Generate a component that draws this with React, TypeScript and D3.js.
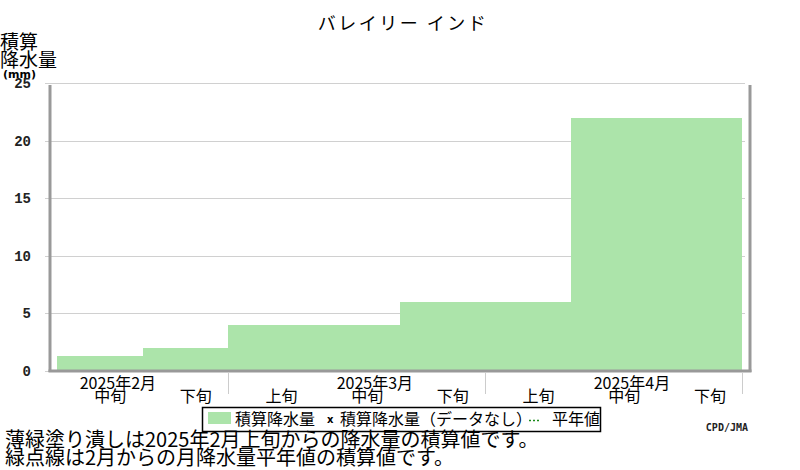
import * as d3 from 'd3'

// 旬ごとの積算降水量 (mm)
const decades = ['中旬', '下旬', '上旬', '中旬', '下旬', '上旬', '中旬', '下旬']
const accumulated = [1.3, 2.0, 4.0, 4.0, 6.0, 6.0, 22.0, 22.0]
const months = ['2025年2月', '2025年3月', '2025年4月']
const monthStartIndex = [0, 3, 6] // 月ラベルを置く旬 (中旬)
const monthEnds = [2, 5, 8]
const yTicks = [0, 5, 10, 15, 20, 25]

const WIDTH = 800
const HEIGHT = 470
const JP = '"Noto Sans CJK JP", sans-serif'

export default function App() {
  const x = d3.scaleLinear().domain([-0.082, 8.082]).range([50, 749.5])
  const y = d3.scaleLinear().domain([0, 25]).range([370.5, 83])

  // 階段状の塗り潰し
  const steps = accumulated.map((v, i) => [i, v] as [number, number])
  steps.push([accumulated.length, accumulated[accumulated.length - 1]])
  const area = d3.area<[number, number]>()
    .x(d => Math.round(x(d[0])))
    .y0(Math.round(y(0)) - 1)
    .y1(d => Math.round(y(d[1])))
    .curve(d3.curveStepAfter)

  return (
    <svg width={WIDTH} height={HEIGHT} style={{ position: 'absolute', left: 0, top: 0, background: '#fff' }}>
      <text x={403} y={30} textAnchor="middle" fontFamily={JP} fontSize={18} fill="#000" letterSpacing={2.5}>
        バレイリー インド
      </text>

      {/* y axis title */}
      <text x={0} y={49} fontFamily={JP} fontSize={19} fill="#000">積算</text>
      <text x={0} y={67} fontFamily={JP} fontSize={19} fill="#000">降水量</text>
      <text x={3} y={78} fontFamily='"DejaVu Sans", sans-serif' fontSize={11} fontWeight="bold" fill="#000">(mm)</text>

      {/* grid */}
      {yTicks.map(t => (
        <g key={t}>
          <line x1={45} x2={745} y1={Math.round(y(t)) + 0.5} y2={Math.round(y(t)) + 0.5} stroke="#d0d0d0" />
          <text x={31} y={y(t) + 5} textAnchor="end" fontFamily='"Liberation Mono", monospace' fontWeight="bold" fontSize={14} fill="#222">{t}</text>
        </g>
      ))}

      {/* accumulated precipitation */}
      <path d={area(steps) ?? ''} fill="#ace4aa" shapeRendering="crispEdges" />

      {/* frame */}
      <line x1={50} x2={50} y1={85} y2={372} stroke="#999" strokeWidth={3} />
      <line x1={750} x2={750} y1={85} y2={372} stroke="#999" strokeWidth={3} />
      <line x1={48.5} x2={751.5} y1={371} y2={371} stroke="#999" strokeWidth={3} />

      {/* month separators */}
      {monthEnds.map(m => (
        <line key={m} x1={Math.round(x(m)) + 0.5} x2={Math.round(x(m)) + 0.5} y1={373} y2={394} stroke="#ccc" />
      ))}

      {/* x labels */}
      {decades.map((d, i) => (
        <text key={i} x={x(i + 0.62)} y={402} textAnchor="middle" fontFamily={JP} fontSize={16} fill="#000">{d}</text>
      ))}
      {months.map((m, i) => (
        <text key={m} x={x(monthStartIndex[i] + 0.71)} y={389} textAnchor="middle" fontFamily={JP} fontSize={16} fill="#000">{m}</text>
      ))}

      {/* legend */}
      <rect x={202.5} y={407.5} width={398} height={24} fill="#fff" stroke="#000" strokeWidth={1.5} />
      <rect x={208} y={412} width={23} height={12} fill="#ace4aa" />
      <text x={235} y={425} fontFamily={JP} fontSize={16} fill="#000">積算降水量</text>
      <text x={327} y={423} fontFamily='"DejaVu Sans", sans-serif' fontWeight="bold" fontSize={10} fill="#000">x</text>
      <text x={340} y={425} fontFamily={JP} fontSize={16} fill="#000">積算降水量（データなし）</text>
      <line x1={529} x2={541} y1={420.5} y2={420.5} stroke="#1a8a1a" strokeWidth={1.5} strokeDasharray="2,2" />
      <text x={552} y={425} fontFamily={JP} fontSize={16} fill="#000">平年値</text>

      <text x={748} y={431} textAnchor="end" fontFamily='"DejaVu Sans Mono", monospace' fontWeight="bold" fontSize={10} fill="#222">CPD/JMA</text>

      {/* notes */}
      <text x={5} y={447} fontFamily={JP} fontSize={20} fill="#000">薄緑塗り潰しは2025年2月上旬からの降水量の積算値です。</text>
      <text x={5} y={465} fontFamily={JP} fontSize={20} fill="#000">緑点線は2月からの月降水量平年値の積算値です。</text>
    </svg>
  )
}
